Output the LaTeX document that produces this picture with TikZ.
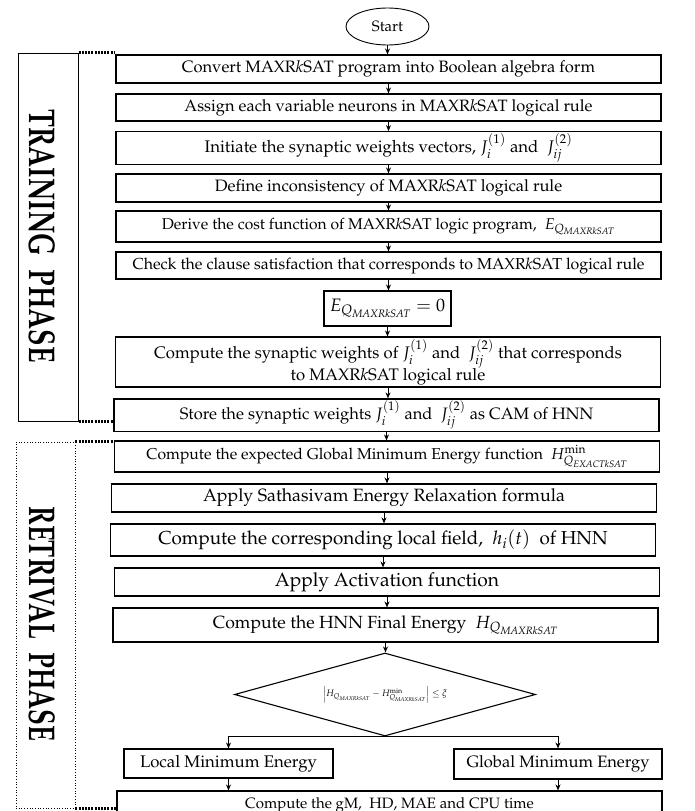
\documentclass[tikz,border=0pt]{standalone}
\usepackage[T1]{fontenc}
\usepackage{mathpazo}
\usepackage{amsmath,amssymb}
\usepackage{graphicx}
\usetikzlibrary{arrows.meta}
\usetikzlibrary{shapes.geometric}

\newcommand{\maxr}{MAXR\textit{k}SAT}
\newcommand{\fsz}[1]{\fontsize{#1}{#1}\selectfont}
\newcommand{\qsub}[1]{Q_{\mathit{#1}}}

\begin{document}
\begin{tikzpicture}[x=1pt,y=-1pt]
    \useasboundingbox (0,0) rectangle (695,811);

    % the two phase frames on the left
    \node[draw, line width=1pt, minimum width=60, minimum height=368] (TF) at (48,237) {};
    \node[draw, dotted, line width=.7pt, minimum width=59, minimum height=366] (RF) at (45.5,625) {};
    \node[rotate=-90, inner sep=0] (TL) at (42,236) {\resizebox{253pt}{26pt}{\bfseries TRAINING\ \ PHASE}};
    \node[rotate=-90, inner sep=0] (RL) at (42,624) {\resizebox{235pt}{26pt}{\bfseries RETRIVAL\ \ PHASE}};

    % Add or remove steps here, use the tuple for location
    \begin{scope}[every node/.style={draw, rectangle, line width=1.1pt, minimum width=545, minimum height=28, inner sep=2pt, align=center}]
    \node[ellipse, minimum width=83, minimum height=37, line width=.9pt, font=\fsz{15}] (start) at (387.5,26.5) {Start};
    \node[font=\fsz{16.5}] (conv) at (388.5,69) {Convert \maxr{} program into Boolean algebra form};
    \node[font=\fsz{16.4}, minimum height=27] (assign) at (388.5,107.5) {Assign each variable neurons in \maxr{} logical rule};
    \node[font=\fsz{16.8}, minimum height=30] (init) at (388.5,148) {Initiate the synaptic weights vectors, $J_i^{(1)}$ and \ $J_{ij}^{(2)}$};
    \node[font=\fsz{16.5}] (define) at (388.5,188) {Define inconsistency of \maxr{} logical rule};
    \node[font=\fsz{15.6}, minimum height=31] (derive) at (388.5,226.5) {Derive the cost function of \maxr{} logic program, \ $E_{\qsub{MAXRkSAT}}$};
    \node[font=\fsz{15.9}, minimum height=27] (check) at (388.5,265.5) {Check the clause satisfaction that corresponds to \maxr{} logical rule};
    \node[font=\fsz{18}, minimum width=127, minimum height=35] (ezero) at (387.5,308.5) {$E_{\qsub{MAXRkSAT}}=0$};
    \node[font={\fontsize{16.7}{22}\selectfont}, minimum height=50] (compw) at (388,362) {Compute the synaptic weights of $J_i^{(1)}$ and \ $J_{ij}^{(2)}$ that corresponds\\ to \maxr{} logical rule};
    \node[font=\fsz{16.5}, minimum height=32] (store) at (386.5,415) {Store the synaptic weights $J_i^{(1)}$ and \ $J_{ij}^{(2)}$ as CAM of HNN};
    \node[font=\fsz{15.7}, minimum height=31] (expect) at (387,456.5) {Compute the expected Global Minimum Energy function \ $H^{\min}_{\qsub{EXACTkSAT}}$};
    \node[font=\fsz{17.8}] (relax) at (384,498) {Apply Sathasivam Energy Relaxation formula};
    \node[font=\fsz{18.8}, minimum height=32] (field) at (383,540) {Compute the corresponding local field, \ $h_i(t)$ \ of HNN};
    \node[font=\fsz{19.2}] (activ) at (387,582) {Apply Activation function};
    \node[font=\fsz{17.6}, minimum height=34] (final) at (385.5,625) {Compute the HNN Final Energy \ $H_{\qsub{MAXRkSAT}}$};
    \node[diamond, aspect=3.6, font=\fsz{9.3}, minimum width=301, minimum height=83, inner sep=0] (cond) at (385,694.5) {$\left|H_{\qsub{MAXRkSAT}}-H^{\min}_{\qsub{MAXRkSAT}}\right|\le\xi$};
    \node[font=\fsz{16.8}, minimum width=209, minimum height=29] (localmin) at (228.5,763.5) {Local Minimum Energy};
    \node[font=\fsz{16.5}, minimum width=208, minimum height=30] (globalmin) at (558,764) {Global Minimum Energy};
    \node[font=\fsz{15}, minimum height=28] (measure) at (389.5,805) {Compute the gM,\ \ HD, MAE and CPU time};
    \end{scope}

    % thick dotted links from the frames to the steps
    \begin{scope}[every path/.style={line width=2.5pt, dash pattern=on 2pt off 1.2pt}]
    \draw (TF.north east) -- (TF.north east -| conv.west);
    \draw (TF.south east) -- (TF.south east -| store.west);
    \draw (RF.north east) -- (RF.north east -| expect.west);
    \draw (RF.south east) -- (RF.south east -| measure.west);
    \end{scope}

    % forward arrows
    \begin{scope}[>={Stealth[length=6pt,width=5pt]},
              every edge/.style={draw=black, line width=1pt}]
    \path [->] (start) edge (start.south |- conv.north);
    \path [->] (conv.south) edge (conv.south |- assign.north);
    \path [->] (assign.south) edge (assign.south |- init.north);
    \path [->] (init.south) edge (init.south |- define.north);
    \path [->] (define.south) edge (define.south |- derive.north);
    \path [->] (derive.south) edge (derive.south |- check.north);
    \path [->] (check.south) edge (check.south |- ezero.north);
    \path [->] (ezero.south) edge (ezero.south |- compw.north);
    \path [->] (compw.south) edge (compw.south |- store.north);
    \path [->] (store.south) edge (store.south |- expect.north);
    \path [->] (expect.south) edge (expect.south |- relax.north);
    \path [->] (relax.south) edge (relax.south |- field.north);
    \path [->] (field.south) edge (field.south |- activ.north);
    \path [->] (activ.south) edge (activ.south |- final.north);
    \path [->] (final.south) edge (final.south |- cond.north);
    \draw [->, line width=1pt] (cond.south) -| (localmin.north);
    \draw [->, line width=1pt] (cond.south) -| (globalmin.north);
    \path [->] (localmin.south) edge (localmin.south |- measure.north);
    \path [->] (globalmin.south) edge (globalmin.south |- measure.north);
    \end{scope}

\end{tikzpicture}
\end{document}
